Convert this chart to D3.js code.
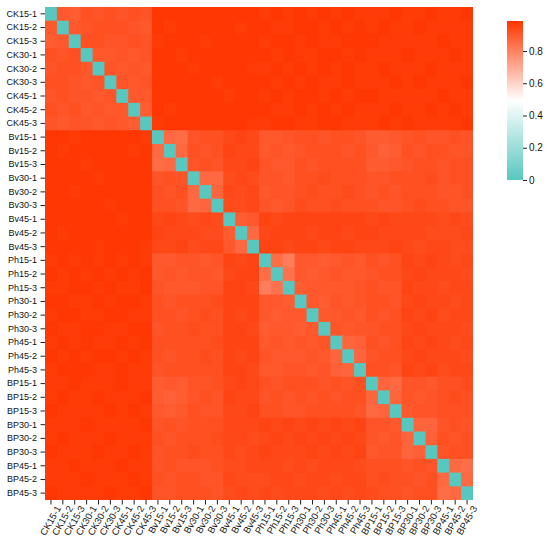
<!DOCTYPE html>
<html lang="en">
<head>
    <meta charset="UTF-8">
    <title>Sample Distance Heatmap</title>
    <script src="https://d3js.org/d3.v7.min.js"></script>
    <style>
        body {
            margin: 0;
            background-color: white;
            font-family: "DejaVu Sans", sans-serif;
        }
        svg {
            display: block;
        }
        .axis text {
            fill: #111;
        }
        .axis line {
            stroke: #222;
        }
    </style>
</head>
<body>
    <script>
        // Sample names (rows and columns)
        const samples = [
            "CK15-1", "CK15-2", "CK15-3", "CK30-1", "CK30-2", "CK30-3", "CK45-1", "CK45-2", "CK45-3",
            "Bv15-1", "Bv15-2", "Bv15-3", "Bv30-1", "Bv30-2", "Bv30-3", "Bv45-1", "Bv45-2", "Bv45-3",
            "Ph15-1", "Ph15-2", "Ph15-3", "Ph30-1", "Ph30-2", "Ph30-3", "Ph45-1", "Ph45-2", "Ph45-3",
            "BP15-1", "BP15-2", "BP15-3", "BP30-1", "BP30-2", "BP30-3", "BP45-1", "BP45-2", "BP45-3"
        ];

        // Lower triangle of the distance matrix, row by row (diagonal is 0)
        const ckRows = [
            [],
            [0.90],
            [0.89, 0.90],
            [0.92, 0.91, 0.92],
            [0.91, 0.92, 0.92, 0.90],
            [0.92, 0.92, 0.91, 0.90, 0.91],
            [0.91, 0.92, 0.91, 0.91, 0.90, 0.91],
            [0.92, 0.91, 0.92, 0.90, 0.91, 0.90, 0.90],
            [0.91, 0.90, 0.91, 0.91, 0.90, 0.91, 0.90, 0.89]
        ];
        const bvRows = [
            [0.98, 0.98, 0.97, 0.98, 0.98, 0.98, 0.98, 0.98, 0.97],
            [0.98, 0.97, 0.98, 0.98, 0.98, 0.98, 0.98, 0.97, 0.98, 0.86],
            [0.98, 0.98, 0.98, 0.97, 0.98, 0.98, 0.98, 0.98, 0.98, 0.85, 0.86],
            [0.98, 0.98, 0.98, 0.98, 0.97, 0.98, 0.98, 0.98, 0.98, 0.91, 0.92, 0.91],
            [0.98, 0.98, 0.97, 0.98, 0.98, 0.98, 0.98, 0.98, 0.98, 0.92, 0.91, 0.92, 0.86],
            [0.98, 0.98, 0.98, 0.98, 0.98, 0.97, 0.98, 0.98, 0.98, 0.92, 0.92, 0.91, 0.86, 0.87],
            [0.98, 0.98, 0.98, 0.98, 0.98, 0.98, 0.97, 0.98, 0.98, 0.94, 0.95, 0.94, 0.93, 0.94, 0.93],
            [0.98, 0.97, 0.98, 0.98, 0.98, 0.98, 0.98, 0.98, 0.98, 0.95, 0.94, 0.94, 0.94, 0.93, 0.93, 0.89],
            [0.98, 0.98, 0.98, 0.98, 0.97, 0.98, 0.98, 0.98, 0.97, 0.94, 0.94, 0.95, 0.93, 0.94, 0.94, 0.90, 0.86]
        ];
        const phRows = [
            [0.97, 0.98, 0.97, 0.98, 0.97, 0.98, 0.97, 0.98, 0.97, 0.90, 0.90, 0.91, 0.91, 0.90, 0.91, 0.95, 0.94, 0.95],
            [0.98, 0.97, 0.98, 0.97, 0.98, 0.97, 0.98, 0.97, 0.98, 0.90, 0.91, 0.90, 0.91, 0.91, 0.90, 0.94, 0.95, 0.95, 0.85],
            [0.97, 0.97, 0.98, 0.98, 0.97, 0.98, 0.97, 0.97, 0.98, 0.91, 0.90, 0.90, 0.90, 0.91, 0.91, 0.95, 0.95, 0.94, 0.81, 0.84],
            [0.98, 0.98, 0.97, 0.97, 0.98, 0.97, 0.98, 0.98, 0.97, 0.92, 0.91, 0.92, 0.92, 0.92, 0.93, 0.95, 0.95, 0.95, 0.90, 0.90, 0.89],
            [0.97, 0.98, 0.98, 0.97, 0.97, 0.98, 0.98, 0.97, 0.97, 0.92, 0.92, 0.91, 0.92, 0.93, 0.92, 0.95, 0.94, 0.95, 0.90, 0.89, 0.90, 0.90],
            [0.98, 0.97, 0.97, 0.98, 0.98, 0.97, 0.97, 0.98, 0.98, 0.91, 0.92, 0.92, 0.93, 0.92, 0.92, 0.95, 0.95, 0.94, 0.89, 0.90, 0.90, 0.89, 0.90],
            [0.97, 0.98, 0.97, 0.98, 0.97, 0.97, 0.98, 0.97, 0.98, 0.92, 0.92, 0.92, 0.92, 0.92, 0.93, 0.95, 0.95, 0.95, 0.90, 0.91, 0.90, 0.91, 0.90, 0.91],
            [0.98, 0.97, 0.98, 0.97, 0.98, 0.98, 0.97, 0.98, 0.97, 0.92, 0.91, 0.92, 0.92, 0.93, 0.92, 0.95, 0.94, 0.95, 0.91, 0.90, 0.90, 0.90, 0.91, 0.90, 0.87],
            [0.97, 0.98, 0.98, 0.98, 0.97, 0.97, 0.98, 0.97, 0.97, 0.91, 0.92, 0.92, 0.92, 0.92, 0.92, 0.95, 0.95, 0.94, 0.90, 0.90, 0.91, 0.91, 0.90, 0.91, 0.88, 0.87]
        ];
        const bpRows = [
            [0.97, 0.97, 0.98, 0.97, 0.97, 0.97, 0.98, 0.97, 0.97, 0.89, 0.90, 0.89, 0.91, 0.91, 0.92, 0.94, 0.95, 0.94,
             0.92, 0.91, 0.92, 0.92, 0.92, 0.91, 0.92, 0.91, 0.92],
            [0.97, 0.98, 0.97, 0.97, 0.98, 0.97, 0.97, 0.97, 0.98, 0.89, 0.88, 0.89, 0.91, 0.92, 0.91, 0.95, 0.94, 0.94,
             0.91, 0.92, 0.91, 0.92, 0.91, 0.92, 0.91, 0.92, 0.92, 0.87],
            [0.98, 0.97, 0.97, 0.97, 0.97, 0.98, 0.97, 0.98, 0.97, 0.90, 0.89, 0.90, 0.92, 0.91, 0.91, 0.94, 0.94, 0.95,
             0.92, 0.92, 0.91, 0.91, 0.92, 0.92, 0.92, 0.92, 0.91, 0.86, 0.87],
            [0.97, 0.97, 0.97, 0.98, 0.97, 0.97, 0.97, 0.97, 0.98, 0.91, 0.92, 0.91, 0.92, 0.92, 0.92, 0.94, 0.94, 0.94,
             0.95, 0.94, 0.95, 0.94, 0.95, 0.94, 0.95, 0.94, 0.95, 0.91, 0.91, 0.90],
            [0.97, 0.98, 0.97, 0.97, 0.97, 0.98, 0.97, 0.97, 0.97, 0.92, 0.91, 0.92, 0.92, 0.92, 0.93, 0.94, 0.94, 0.93,
             0.94, 0.95, 0.94, 0.95, 0.94, 0.95, 0.94, 0.95, 0.94, 0.91, 0.90, 0.91, 0.87],
            [0.98, 0.97, 0.97, 0.97, 0.98, 0.97, 0.97, 0.98, 0.97, 0.91, 0.92, 0.92, 0.93, 0.92, 0.92, 0.94, 0.93, 0.94,
             0.95, 0.94, 0.94, 0.94, 0.95, 0.94, 0.95, 0.94, 0.95, 0.90, 0.91, 0.91, 0.87, 0.88],
            [0.97, 0.97, 0.98, 0.97, 0.97, 0.97, 0.98, 0.97, 0.97, 0.91, 0.92, 0.91, 0.91, 0.91, 0.92, 0.93, 0.93, 0.94,
             0.94, 0.94, 0.93, 0.94, 0.93, 0.94, 0.94, 0.94, 0.93, 0.92, 0.92, 0.92, 0.91, 0.92, 0.91],
            [0.97, 0.97, 0.97, 0.98, 0.97, 0.97, 0.97, 0.98, 0.97, 0.92, 0.91, 0.92, 0.92, 0.91, 0.91, 0.94, 0.93, 0.93,
             0.93, 0.94, 0.94, 0.93, 0.94, 0.94, 0.93, 0.94, 0.94, 0.92, 0.93, 0.92, 0.92, 0.91, 0.92, 0.86],
            [0.98, 0.97, 0.97, 0.97, 0.97, 0.98, 0.97, 0.97, 0.98, 0.91, 0.91, 0.92, 0.92, 0.92, 0.91, 0.93, 0.94, 0.93,
             0.94, 0.93, 0.94, 0.94, 0.94, 0.93, 0.94, 0.93, 0.94, 0.93, 0.92, 0.92, 0.91, 0.92, 0.92, 0.85, 0.86]
        ];

        // Colour bar ticks
        const cbarTicks = [0, 0.2, 0.4, 0.6, 0.8];

        // Build the full symmetric matrix as cells
        const lower = [...ckRows, ...bvRows, ...phRows, ...bpRows];
        const cells = [];
        samples.forEach((rowName, i) => {
            samples.forEach((colName, j) => {
                let v = 0;
                if (j < i) v = lower[i][j];
                else if (j > i) v = lower[j][i];
                cells.push({row: rowName, col: colName, value: v});
            });
        });

        // Dimensions
        const W = 550, H = 548;
        const plot = {left: 45, top: 7, right: 473, bottom: 500};

        const svg = d3.select("body").append("svg")
            .attr("width", W)
            .attr("height", H);

        // Scales
        const x = d3.scaleBand().domain(samples).range([plot.left, plot.right]);
        const y = d3.scaleBand().domain(samples).range([plot.top, plot.bottom]);

        const vmax = 0.986;
        const color = d3.scaleLinear()
            .domain([0, vmax / 2, vmax])
            .range(["#58c7bf", "#ffffff", "#ff3500"])
            .clamp(true);

        const defs = svg.append("defs");
        defs.append("clipPath")
            .attr("id", "plot-clip")
            .append("rect")
            .attr("x", plot.left)
            .attr("y", plot.top)
            .attr("width", plot.right - plot.left)
            .attr("height", plot.bottom - plot.top);

        // Heatmap cells (slightly oversized so no seams show)
        svg.append("g")
            .attr("clip-path", "url(#plot-clip)")
            .selectAll("rect")
            .data(cells)
            .join("rect")
            .attr("x", d => x(d.col))
            .attr("y", d => y(d.row))
            .attr("width", x.bandwidth() + 1)
            .attr("height", y.bandwidth() + 1)
            .attr("fill", d => color(d.value));

        // Y axis
        const yAxis = svg.append("g")
            .attr("class", "axis")
            .attr("transform", `translate(${plot.left},0)`)
            .call(d3.axisLeft(y).tickSize(4.5).tickPadding(3.5));
        yAxis.select(".domain").remove();
        yAxis.selectAll("text").style("font-size", "9px");

        // X axis
        const xAxis = svg.append("g")
            .attr("class", "axis")
            .attr("transform", `translate(0,${plot.bottom})`)
            .call(d3.axisBottom(x).tickSize(4.5).tickPadding(3.5));
        xAxis.select(".domain").remove();
        xAxis.selectAll("text")
            .style("font-size", "9.5px")
            .style("text-anchor", "end")
            .attr("dx", "-0.2em")
            .attr("dy", "0.55em")
            .attr("transform", "rotate(-60)");

        // Colour bar
        const cb = {x: 507, y: 21, w: 16, h: 159};
        const cbScale = d3.scaleLinear().domain([0, vmax]).range([cb.y + cb.h, cb.y]);

        const grad = defs.append("linearGradient")
            .attr("id", "cbar-grad")
            .attr("x1", "0").attr("y1", "1")
            .attr("x2", "0").attr("y2", "0");
        d3.range(0, 1.0001, 0.05).forEach(t => {
            grad.append("stop")
                .attr("offset", t)
                .attr("stop-color", color(t * vmax));
        });

        svg.append("rect")
            .attr("x", cb.x)
            .attr("y", cb.y)
            .attr("width", cb.w)
            .attr("height", cb.h)
            .attr("fill", "url(#cbar-grad)");

        const cbAxis = svg.append("g")
            .attr("class", "axis")
            .attr("transform", `translate(${cb.x + cb.w},0)`)
            .call(d3.axisRight(cbScale)
                .tickValues(cbarTicks)
                .tickSize(4)
                .tickPadding(2)
                .tickFormat(d => d === 0 ? "0" : d3.format(".1f")(d)));
        cbAxis.select(".domain").remove();
        cbAxis.selectAll("text").style("font-size", "10px");
    </script>
</body>
</html>
